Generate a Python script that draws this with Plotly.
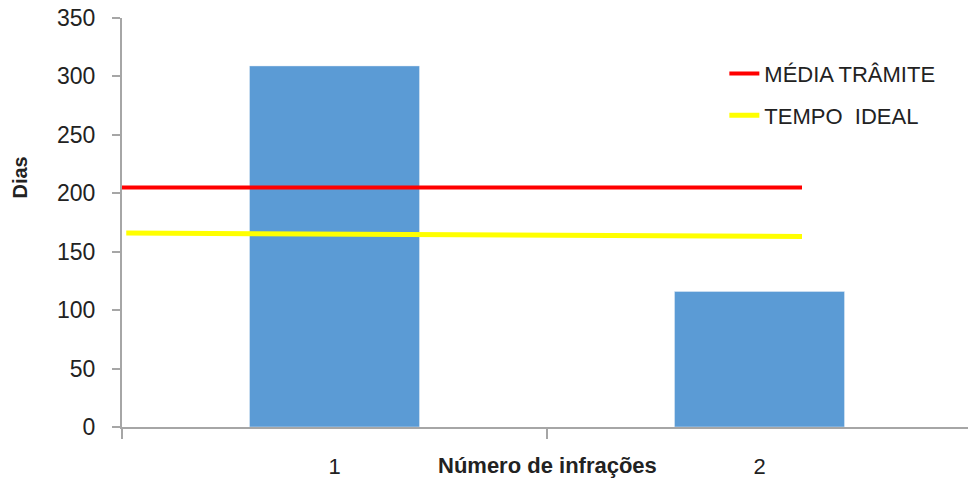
import plotly.graph_objects as go

# Data
categorias = [1, 2]
dias = [309, 116]
media_tramite = [205, 205]
tempo_ideal = [166, 163]
linha_media_x = [0.48, 2.10]
linha_ideal_x = [0.51, 2.10]
nomes = ["MÉDIA TRÂMITE", "TEMPO  IDEAL"]
titulo_x = "Número de infrações"
titulo_y = "Dias"

FONT = "Liberation Sans"

fig = go.Figure()
fig.add_trace(go.Bar(x=categorias, y=dias, width=0.4, marker_color="#5B9BD5",
                     showlegend=False))
fig.add_trace(go.Scatter(x=linha_media_x, y=media_tramite, mode="lines",
                         line=dict(color="#FF0000", width=4), name=nomes[0],
                         legendgroup="a"))
fig.add_trace(go.Scatter(x=linha_ideal_x, y=tempo_ideal, mode="lines",
                         line=dict(color="#FFFF00", width=5), name=nomes[1],
                         legendgroup="b"))

fig.update_layout(
    width=968, height=479,
    margin=dict(l=122, r=0, t=18, b=52),
    plot_bgcolor="white", paper_bgcolor="white",
    font=dict(family=FONT, color="#222222", size=20),
    legend=dict(x=0.712, y=0.915, xanchor="left", yanchor="top",
                font=dict(size=22, color="#222222"), tracegroupgap=10,
                bgcolor="rgba(0,0,0,0)"),
    bargap=0.6,
)
fig.update_xaxes(
    range=[0.5, 2.4906], tickvals=categorias, ticktext=[str(c) for c in categorias],
    ticks="", showgrid=False, zeroline=False, showline=True, linecolor="#A6A6A6",
    linewidth=2, ticklabelstandoff=19, tickfont=dict(size=22),
    minor=dict(tickvals=[0.5, 1.5, 2.5], ticks="outside", ticklen=10,
               tickcolor="#A6A6A6", tickwidth=2, showgrid=False),
)
fig.update_yaxes(
    range=[0, 350], dtick=50, ticks="outside", ticklen=8, tickcolor="#A6A6A6",
    tickwidth=2, showgrid=False, zeroline=False, showline=True, linecolor="#A6A6A6",
    linewidth=2, ticklabelstandoff=12, tickfont=dict(size=23),
)
fig.add_annotation(text=titulo_x, xref="x", yref="paper", x=1.5, y=0,
                   yshift=-38, showarrow=False, yanchor="middle",
                   font=dict(size=22, family=FONT, weight="bold", color="#222222"))
fig.add_annotation(text=titulo_y, xref="paper", yref="paper", x=-0.121, y=0.609,
                   xanchor="center", yanchor="middle", textangle=-90, showarrow=False,
                   font=dict(size=20, family=FONT, weight="bold", color="#222222"))

fig.write_html("out.html")
